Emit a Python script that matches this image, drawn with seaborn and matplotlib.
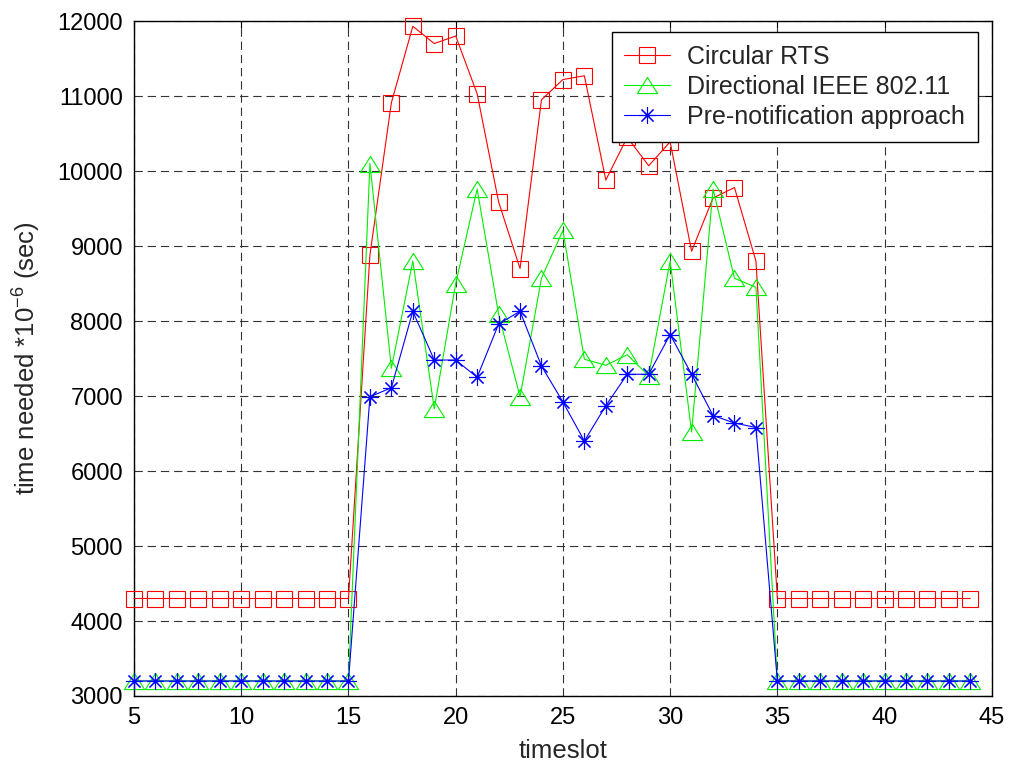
import matplotlib
matplotlib.use("Agg")
import matplotlib.pyplot as plt
import seaborn as sns
import numpy as np
from matplotlib.lines import Line2D

timeslot = [5, 6, 7, 8, 9, 10, 11, 12, 13, 14, 15, 16, 17, 18, 19, 20, 21, 22, 23, 24,
            25, 26, 27, 28, 29, 30, 31, 32, 33, 34, 35, 36, 37, 38, 39, 40, 41, 42, 43, 44]

circular_rts = [4300, 4300, 4300, 4300, 4300, 4300, 4300, 4300, 4300, 4300, 4300,
                8880, 10910, 11930, 11700, 11800, 11030, 9590, 8700, 10950,
                11220, 11270, 9880, 10450, 10070, 10390, 8930, 9640, 9780, 8800,
                4300, 4300, 4300, 4300, 4300, 4300, 4300, 4300, 4300, 4300]

directional_ieee = [3200, 3200, 3200, 3200, 3200, 3200, 3200, 3200, 3200, 3200, 3200,
                    10100, 7370, 8800, 6830, 8500, 9760, 8090, 6990, 8570,
                    9210, 7490, 7410, 7550, 7270, 8800, 6520, 9760, 8570, 8450,
                    3200, 3200, 3200, 3200, 3200, 3200, 3200, 3200, 3200, 3200]

pre_notification = [3200, 3200, 3200, 3200, 3200, 3200, 3200, 3200, 3200, 3200, 3200,
                    6990, 7110, 8130, 7480, 7480, 7250, 7960, 8130, 7400,
                    6920, 6400, 6870, 7290, 7290, 7820, 7290, 6740, 6640, 6580,
                    3200, 3200, 3200, 3200, 3200, 3200, 3200, 3200, 3200, 3200]

series_names = ["Circular RTS", "Directional IEEE 802.11", "Pre-notification approach"]
x_ticks = [5, 10, 15, 20, 25, 30, 35, 40, 45]
y_ticks = [3000, 4000, 5000, 6000, 7000, 8000, 9000, 10000, 11000, 12000]

sns.set_style("white")
plt.rcParams["font.family"] = ["Liberation Sans", "DejaVu Sans"]
plt.rcParams["mathtext.fontset"] = "custom"
plt.rcParams["mathtext.rm"] = "Liberation Sans"
plt.rcParams["mathtext.it"] = "Liberation Sans"
plt.rcParams["lines.scale_dashes"] = False

fig = plt.figure(figsize=(10.1, 7.65), dpi=100)
ax = fig.add_axes([0.1327, 0.0902, 0.982 - 0.1327, 0.9725 - 0.0902])

tri = [(0, 0.8), (-1, -0.8), (1, -0.8), (0, 0.8)]
styles = [
    dict(color="#ff0000", marker="s", markersize=11.5),
    dict(color="#00ee00", marker=tri, markersize=14.5),
    dict(color="#0000ff", marker=(8, 2, 0), markersize=12),
]
data = [circular_rts, directional_ieee, pre_notification]

handles = []
for name, vals, st in zip(series_names, data, styles):
    sns.lineplot(x=timeslot, y=vals, ax=ax, color=st["color"], linewidth=0.8,
                 marker=st["marker"], markersize=st["markersize"],
                 markerfacecolor="none", markeredgecolor=st["color"],
                 markeredgewidth=0.8, clip_on=False, legend=False, zorder=3)
    handles.append(Line2D([0], [0], color=st["color"], linewidth=0.8,
                          marker=st["marker"], markersize=st["markersize"],
                          markerfacecolor="none", markeredgecolor=st["color"],
                          markeredgewidth=0.8, label=name))

ax.set_xlim(5, 45)
ax.set_ylim(3000, 12000)
ax.set_xticks(x_ticks)
ax.set_yticks(y_ticks)
ax.tick_params(direction="in", length=5, width=0.8, top=True, right=True,
               labelsize=17, colors="black", pad=8)
ax.grid(True, color="0.2", linestyle=(0, (6, 3.5)), linewidth=0.8)
for sp in ax.spines.values():
    sp.set_visible(True)
    sp.set_color("black")
    sp.set_linewidth(1.0)

ax.set_xlabel("timeslot", fontsize=18.5, labelpad=7)
ax.set_ylabel(r"time needed *10$^{-6}$ (sec)", fontsize=18.5, labelpad=10)

leg = ax.legend(handles=handles, loc="upper right", bbox_to_anchor=(0.9837, 0.9837),
                borderaxespad=0, fontsize=18, handlelength=1.85, handletextpad=0.68,
                labelspacing=0.25, borderpad=0.5, fancybox=False, framealpha=1,
                edgecolor="black")
leg.get_frame().set_linewidth(1.0)

fig.savefig("out.png", dpi=100, facecolor="white")
